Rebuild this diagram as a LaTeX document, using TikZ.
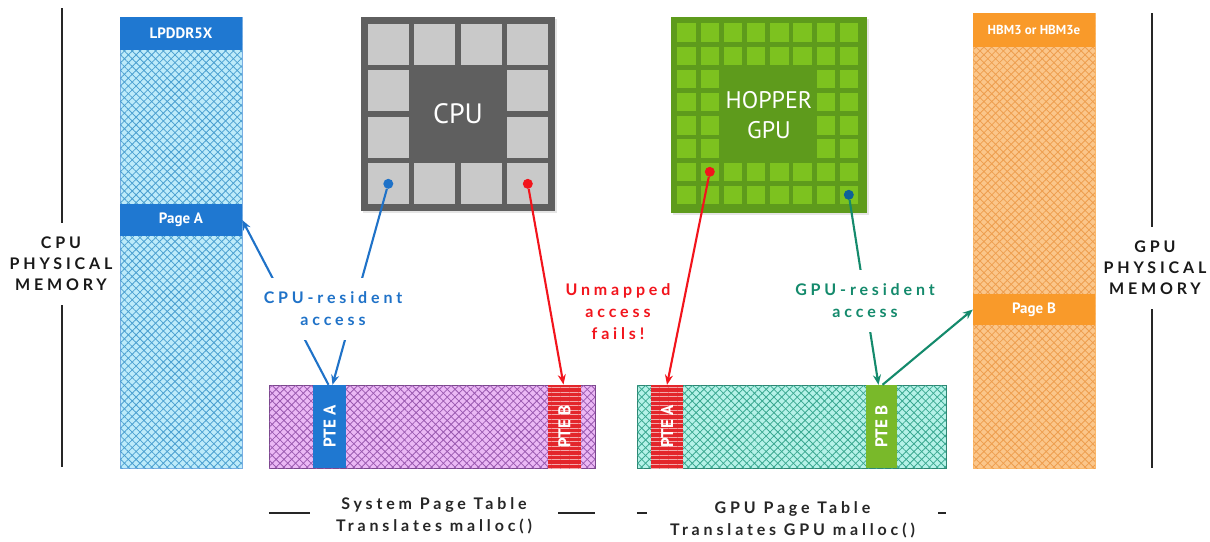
\documentclass[tikz,border=0pt]{standalone}
\usepackage{fontspec}
\setmainfont{PT Sans}
\newfontfamily\spaced[LetterSpace=24]{Lato}
\usetikzlibrary{positioning,arrows.meta,patterns.meta,shadows}

\definecolor{memblue}{HTML}{1F78D1}
\definecolor{lpfill}{HTML}{BDEBFA}
\definecolor{lpline}{HTML}{4A9FD0}
\definecolor{hbmorange}{HTML}{F99A2A}
\definecolor{hbmfill}{HTML}{FBC68A}
\definecolor{hbmline}{HTML}{EE9E4E}
\definecolor{sysfill}{HTML}{EBB8F5}
\definecolor{sysline}{HTML}{9A5AB0}
\definecolor{gpufill}{HTML}{B5F2E8}
\definecolor{gpuline}{HTML}{3AA890}
\definecolor{cpugray}{HTML}{5F5F5F}
\definecolor{cpucell}{HTML}{C9C9C9}
\definecolor{gpugreen}{HTML}{5E9B1C}
\definecolor{gpucell}{HTML}{7DC21F}
\definecolor{accblue}{HTML}{1F72C8}
\definecolor{accred}{HTML}{F2141C}
\definecolor{accteal}{HTML}{148A6C}
\definecolor{ptered}{HTML}{E3262B}
\definecolor{ptegreen}{HTML}{79B92A}

\begin{document}
\begin{tikzpicture}[x=1pt, y=-1pt,
    hatch/.style 2 args={preaction={fill=#1},
      pattern={Lines[angle=45,distance=5.5pt,line width=.8pt]}, pattern color=#2,
      postaction={pattern={Lines[angle=-45,distance=5.5pt,line width=.8pt]}, pattern color=#2}},
    stripes/.style={preaction={fill=#1},
      pattern={Lines[angle=0,distance=4.5pt,line width=1pt]}, pattern color=#1!40!white},
    memcol/.style={minimum width=122pt, inner sep=0pt},
    membar/.style={fill=#1, minimum width=122pt, inner sep=0pt, text=white,
      font=\bfseries\fontsize{15}{18}\selectfont},
    pte/.style={minimum height=83pt, inner sep=0pt, text=white,
      font=\bfseries\fontsize{17}{19}\selectfont},
    dot/.style={circle, fill=#1, minimum size=10pt, inner sep=0pt},
    acc/.style={line width=2.1pt, draw=#1, -{Stealth[length=10pt,width=8pt]}},
    acclbl/.style={fill=white, text=#1, align=center, inner xsep=2pt, inner ysep=14pt,
      font=\spaced\bfseries\fontsize{16}{22}\selectfont},
    rule/.style={line width=2pt, black!85},
    memlbl/.style={fill=white, align=center, inner xsep=2pt, inner ysep=14pt, text=black!90,
      font=\spaced\bfseries\fontsize{16}{21}\selectfont},
    caption/.style={fill=white, align=center, text=black!85, inner sep=2pt,
      font=\spaced\bfseries\fontsize{16}{22}\selectfont},
  ]
  \path[fill=white, use as bounding box] (0,0) rectangle (1210,541);

  % side rules
  \coordinate (cputop) at (62,8);
  \coordinate (cpubot) at (62,467);
  \coordinate (gputop) at (1152,13);
  \coordinate (gpubot) at (1152,468);
  \draw[rule] (cputop) -- (cpubot);
  \draw[rule] (gputop) -- (gpubot);
  \node[memlbl] (cpumem) at (61,264) {CPU\\PHYSICAL\\MEMORY};
  \node[memlbl] (gpumem) at (1155,268) {GPU\\PHYSICAL\\MEMORY};

  % memory columns
  \node[memcol, hatch={lpfill}{lpline}, draw=memblue!60, minimum height=451pt] (lpddr) at (181,242.5) {};
  \node[membar=memblue, minimum height=33pt, below=0pt of lpddr.north] (lpddrhd) {LPDDR5X};
  \node[membar=memblue, minimum height=32pt] (pageA) at (181,220) {Page A};

  \node[memcol, hatch={hbmfill}{hbmline}, draw=hbmorange!70, minimum height=455pt] (hbm) at (1034,240.5) {};
  \node[membar=hbmorange, minimum height=34pt, below=0pt of hbm.north,
    font=\bfseries\fontsize{13}{16}\selectfont] (hbmhd) {HBM3 or HBM3e};
  \node[membar=hbmorange, minimum height=31pt] (pageB) at (1034,309.5) {Page B};

  % chips
  \node[fill=cpugray, minimum size=194pt, inner sep=0pt,
    drop shadow={opacity=.2, shadow xshift=2pt, shadow yshift=-2pt}] (cpu) at (458,114) {};
  \foreach \i in {0,...,3}
    \foreach \j in {0,...,3} {
      \pgfmathtruncatemacro\iscore{(\i>0)*(\i<3)*(\j>0)*(\j<3)}
      \ifnum\iscore=0
        \fill[cpucell] ([shift={(7+46.5*\i,7+46.5*\j)}]cpu.north west) rectangle ++(41,41);
      \fi
    }
  \node[text=white, font=\fontsize{28}{30}\selectfont] (cpulbl) at (cpu) {CPU};

  \node[fill=gpugreen, minimum size=196pt, inner sep=0pt,
    drop shadow={opacity=.2, shadow xshift=2pt, shadow yshift=-2pt}] (gpu) at (769,115) {};
  \foreach \i in {0,...,7}
    \foreach \j in {0,...,7} {
      \pgfmathtruncatemacro\iscore{(\i>1)*(\i<6)*(\j>1)*(\j<6)}
      \ifnum\iscore=0
        \fill[gpucell] ([shift={(6.5+23.2*\i,6.5+23.2*\j)}]gpu.north west) rectangle ++(18.5,18.5);
      \fi
    }
  \node[text=white, align=center, font=\fontsize{24}{30}\selectfont] (gpulbl) at (gpu) {HOPPER\\GPU};

  % page tables
  \node[hatch={sysfill}{sysline}, draw=sysline!80!black, minimum width=326pt, minimum height=83pt,
    inner sep=0pt] (systbl) at (432,426.5) {};
  \node[pte, fill=memblue, minimum width=33pt] (pteA) at (329.5,426.5) {\rotatebox{90}{PTE A}};
  \node[pte, stripes=ptered, minimum width=33pt] (pteB) at (564.5,426.5) {\rotatebox{90}{PTE B}};

  \node[hatch={gpufill}{gpuline}, draw=gpuline!80!black, minimum width=309pt, minimum height=83pt,
    inner sep=0pt] (gputbl) at (791.5,426.5) {};
  \node[pte, stripes=ptered, minimum width=32pt] (gpteA) at (667,426.5) {\rotatebox{90}{PTE A}};
  \node[pte, fill=ptegreen, minimum width=31pt] (gpteB) at (881.5,426.5) {\rotatebox{90}{PTE B}};

  % accesses
  \node[dot=accblue] (cpuA) at ([shift={(27.5,167)}]cpu.north west) {};
  \node[dot=accred] (cpuB) at ([shift={(167,167)}]cpu.north west) {};
  \node[dot=accred] (gpuA) at ([shift={(39,155)}]gpu.north west) {};
  \node[dot=accteal!70!blue] (gpuB) at ([shift={(178,178)}]gpu.north west) {};

  \draw[acc=accblue] (cpuA) -- ([xshift=3pt]pteA.north);
  \draw[acc=accblue] ([xshift=-1pt]pteA.north) -- (pageA.east);
  \draw[acc=accred] (cpuB) -- ([xshift=-1pt]pteB.north);
  \draw[acc=accred] (gpuA) -- (gpteA.north);
  \draw[acc=accteal] (gpuB) -- ([xshift=-3pt]gpteB.north);
  \draw[acc=accteal] ([xshift=1pt]gpteB.north) -- (pageB.west);

  \node[acclbl=accblue] (cpures) at (333,309) {CPU-resident\\access};
  \node[acclbl=accteal] (gpures) at (865,301) {GPU-resident\\access};
  \node[align=center, text=accred, font=\spaced\bfseries\fontsize{16}{22}\selectfont]
    (unmapped) at (618,312) {Unmapped\\access\\fails!};

  % captions
  \draw[rule] ([yshift=-45pt]systbl.south west) -- ([yshift=-45pt]systbl.south east);
  \node[caption, minimum width=248pt] (syscap) at (434,516) {System Page Table\\Translates malloc()};
  \draw[rule] ([yshift=-45pt]gputbl.south west) -- ([yshift=-45pt]gputbl.south east);
  \node[caption, minimum width=291pt] (gpucap) at (792.5,520) {GPU Page Table\\Translates GPU malloc()};
\end{tikzpicture}
\end{document}
